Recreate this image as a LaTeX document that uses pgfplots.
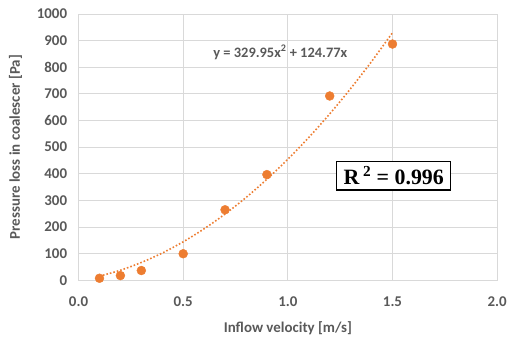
\documentclass[border=0pt]{standalone}
\usepackage{pgfplots}
\pgfplotsset{compat=1.18}
\usepackage{fontspec}
\setmainfont{Carlito}[BoldFont={Carlito Bold}]
\newfontfamily\timesfont{Liberation Serif}[BoldFont={Liberation Serif Bold}]
\definecolor{orangeM}{HTML}{ED7D31}
\definecolor{tickgray}{HTML}{595959}
\definecolor{gridgray}{HTML}{D9D9D9}
\begin{document}
\begin{tikzpicture}
\begin{axis}[name=ax, scale only axis, width=421pt, height=268pt,
  xmin=0, xmax=2, ymin=0, ymax=1000,
  xtick={0,0.5,1,1.5,2}, ytick={0,100,...,1000},
  grid=major, major grid style={gridgray, line width=0.8pt},
  axis line style={gridgray, line width=0.8pt},
  major tick length=0pt,
  /pgf/number format/assume math mode=true,
  xticklabel style={/pgf/number format/.cd, fixed, fixed zerofill, precision=1},
  yticklabel style={/pgf/number format/.cd, fixed, 1000 sep={}},
  tick label style={font=\bfseries\fontsize{15}{17}\selectfont, text=tickgray},
  xticklabel shift=13pt, yticklabel shift=8pt,
  xlabel={Inflow velocity [m/s]}, ylabel={Pressure loss in coalescer [Pa]},
  label style={font=\bfseries\fontsize{15}{17}\selectfont, text=tickgray},
  xlabel style={yshift=-8pt},
  ylabel style={yshift=8pt},
  clip=false]
\addplot[orangeM, line width=1.6pt, dotted, smooth] coordinates {
(0.1,15.78) (0.2,38.15) (0.3,67.13) (0.4,102.70) (0.5,144.87) (0.6,193.64) (0.7,249.01) (0.8,310.98) (0.9,379.55) (1.0,454.72) (1.1,536.49) (1.2,624.85) (1.3,719.82) (1.4,821.38) (1.5,929.54)};
\addplot[only marks, mark=*, mark size=4.5pt, mark options={fill=orangeM, draw=orangeM}] coordinates {
(0.1,8) (0.2,18) (0.3,37) (0.5,100) (0.7,265) (0.9,397) (1.2,692) (1.5,887)};
\node[font=\bfseries\fontsize{14.5}{16}\selectfont, text=tickgray] at (axis cs:0.964,856) {y = 329.95x\textsuperscript{2} + 124.77x};
\node[draw=black, line width=1.2pt, fill=white, font=\timesfont\bfseries\fontsize{22}{24}\selectfont, inner xsep=7pt, inner ysep=3pt, minimum height=29pt] at (axis cs:1.506,393) {R\,\textsuperscript{2} = 0.996};
\end{axis}
\path ([shift={(-79pt,-55pt)}]ax.south west) rectangle ([shift={(10pt,14pt)}]ax.north east);
\end{tikzpicture}
\end{document}
